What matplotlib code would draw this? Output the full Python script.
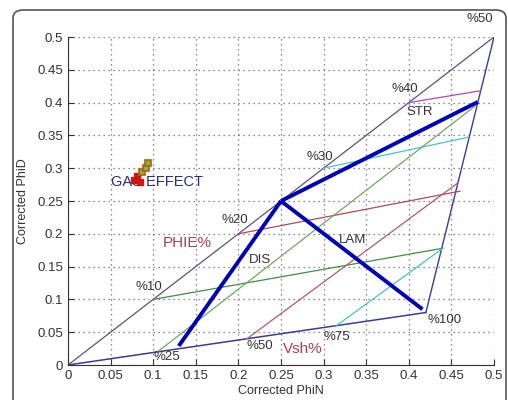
import matplotlib

matplotlib.use("Agg")
import matplotlib.pyplot as plt  # noqa: E402
from matplotlib.patches import FancyBboxPatch  # noqa: E402

plt.rcParams["font.family"] = ["Liberation Sans", "DejaVu Sans"]

# envelope: clean line, shale line, right edge
clean_x = [0.0, 0.5]
clean_y = [0.0, 0.5]
shale_x = [0.0, 0.42]
shale_y = [0.0, 0.08]
edge_x = [0.42, 0.5]
edge_y = [0.08, 0.5]

# iso-porosity lines (PHIE %)
phie_labels = ["%10", "%20", "%30", "%40"]
phie_start = [(0.10, 0.10), (0.20, 0.20), (0.30, 0.30), (0.40, 0.40)]
phie_end = [(0.44, 0.178), (0.46, 0.265), (0.469, 0.347), (0.484, 0.418)]
phie_colors = ["#3f8f3f", "#b04a5a", "#45c4c4", "#b048b8"]

# iso-shale lines (Vsh %)
vsh_labels = ["%25", "%50", "%75"]
vsh_start = [(0.105, 0.02), (0.21, 0.04), (0.315, 0.06)]
vsh_end = [(0.478, 0.395), (0.458, 0.278), (0.44, 0.178)]
vsh_colors = ["#6fa860", "#b05a6a", "#45c4c4"]

# shale distribution models
dis_x = [0.13, 0.25]
dis_y = [0.029, 0.25]
str_x = [0.25, 0.481]
str_y = [0.25, 0.401]
lam_x = [0.25, 0.416]
lam_y = [0.25, 0.085]

# gas-effect samples
gas_red_x = [0.077, 0.081, 0.084]
gas_red_y = [0.282, 0.288, 0.279]
gas_green_x = [0.087, 0.091, 0.094]
gas_green_y = [0.294, 0.301, 0.308]

fig = plt.figure(figsize=(5.08, 4.0), dpi=100)
frame = FancyBboxPatch((13 / 508, -0.05), 493 / 508, 1.025,
                       boxstyle="round,pad=0,rounding_size=0.02", transform=fig.transFigure,
                       facecolor="none", edgecolor="#555555", lw=1.2, clip_on=False, zorder=-1)
fig.patches.append(frame)

ax = fig.add_axes([68 / 508, 35 / 400, 426 / 508, 328 / 400])
ax.set_facecolor("none")

ax.plot(clean_x, clean_y, color="#55557f", lw=0.9)
ax.plot(shale_x, shale_y, color="#3c3c98", lw=1.1)
ax.plot(edge_x, edge_y, color="#3c3c98", lw=1.0)

for (x0, y0), (x1, y1), c in zip(phie_start, phie_end, phie_colors):
    ax.plot([x0, x1], [y0, y1], color=c, lw=0.9)
for (x0, y0), (x1, y1), c in zip(vsh_start, vsh_end, vsh_colors):
    ax.plot([x0, x1], [y0, y1], color=c, lw=0.9)

for xs, ys in [(dis_x, dis_y), (str_x, str_y), (lam_x, lam_y)]:
    ax.plot(xs, ys, color="#0000b4", lw=2.8, solid_capstyle="butt")

ax.plot(gas_red_x, gas_red_y, "s", ms=5, color="#e01010", mec="#c02010", zorder=5)
ax.plot(gas_green_x, gas_green_y, "s", ms=5, color="#50d040", mec="#d05010", mew=1.2, zorder=5)

fs = 9.5
txt = dict(fontsize=fs, color="#333333", ha="center", va="center")
ax.text(0.483, 0.527, "%50", clip_on=False, **txt)
ax.text(0.395, 0.42, "%40", **txt)
ax.text(0.413, 0.386, "STR", **txt)
ax.text(0.296, 0.317, "%30", **txt)
ax.text(0.196, 0.221, "%20", **txt)
ax.text(0.225, 0.16, "DIS", **txt)
ax.text(0.095, 0.119, "%10", **txt)
ax.text(0.334, 0.19, "LAM", **txt)
ax.text(0.442, 0.069, "%100", **txt)
ax.text(0.316, 0.043, "%75", **txt)
ax.text(0.225, 0.029, "%50", **txt)
ax.text(0.116, 0.012, "%25", **txt)
ax.text(0.14, 0.186, "PHIE%", fontsize=11, color="#a84050", ha="center", va="center")
ax.text(0.276, 0.024, "Vsh%", fontsize=11, color="#a84050", ha="center", va="center")
ax.text(0.104, 0.279, "GAS EFFECT", fontsize=10.5, color="#2b2b7a", ha="center", va="center",
        zorder=4)

ax.set_xlim(0, 0.5)
ax.set_ylim(0, 0.5)
ticks = [i * 0.05 for i in range(11)]
ax.set_xticks(ticks)
ax.set_yticks(ticks)
ax.set_xticklabels(["0", "0.05", "0.1", "0.15", "0.2", "0.25", "0.3", "0.35", "0.4", "0.45", "0.5"])
ax.set_yticklabels(["0", "0.05", "0.1", "0.15", "0.2", "0.25", "0.3", "0.35", "0.4", "0.45", "0.5"])
ax.tick_params(direction="in", length=4, labelsize=9.5, colors="#333333")
ax.grid(True, color="#666666", linestyle=(0, (1, 3)), lw=0.9)
ax.spines["top"].set_visible(False)
ax.spines["right"].set_visible(False)
ax.spines["left"].set_color("#333333")
ax.spines["bottom"].set_color("#333333")
ax.set_xlabel("Corrected PhiN", fontsize=9, color="#333333", labelpad=2)
ax.set_ylabel("Corrected PhiD", fontsize=9, color="#333333", labelpad=6)

fig.savefig("out.png", dpi=100)
